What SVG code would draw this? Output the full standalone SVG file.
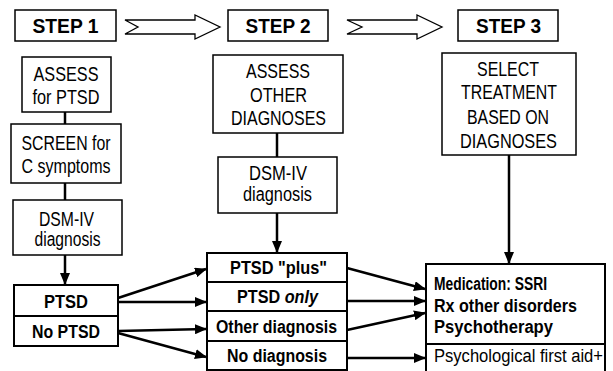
<svg xmlns="http://www.w3.org/2000/svg" width="613" height="371" viewBox="0 0 613 371">
<style>
  .box { fill: #fff; stroke: #000; stroke-width: 1.5; }
  .bold-box { fill: #fff; stroke: #000; stroke-width: 2; }
  .t { font-family: "Liberation Sans", Arial, sans-serif; font-size: 20px; fill: #000; text-anchor: middle; }
  .b { font-family: "Liberation Sans", Arial, sans-serif; font-size: 18px; font-weight: bold; fill: #000; text-anchor: middle; }
  .step { font-family: "Liberation Sans", Arial, sans-serif; font-size: 21px; font-weight: bold; fill: #000; text-anchor: middle; }
  .l { font-family: "Liberation Sans", Arial, sans-serif; font-size: 18px; fill: #000; }
  .line { stroke: #000; stroke-width: 2.5; fill: none; }
  .arr { stroke: #000; stroke-width: 2.5; fill: none; marker-end: url(#ah); }
  .block { fill: #fff; stroke: #000; stroke-width: 1.3; }
</style>
<defs>
  <marker id="ah" markerUnits="userSpaceOnUse" markerWidth="12" markerHeight="10" viewBox="0 0 12 10" refX="11" refY="5" orient="auto">
    <path d="M0,0 L12,5 L0,10 Z" fill="#000"/>
  </marker>
</defs>
<rect width="613" height="371" fill="#fff"/>

<g id="connectors">
  <path class="block" d="M125,20 L195,20 L195,15 L220,27 L195,39 L195,34 L125,34 L138,27 Z"/>
  <path class="block" d="M347,20 L417,20 L417,15 L442,27 L417,39 L417,34 L347,34 L362,27 Z"/>
  <line class="line" x1="65" y1="112" x2="65" y2="124"/>
  <line class="line" x1="65" y1="183" x2="65" y2="200"/>
  <line class="arr" x1="65" y1="255" x2="65" y2="284"/>
  <line class="line" x1="277" y1="133" x2="277" y2="157"/>
  <line class="arr" x1="277" y1="213" x2="277" y2="252"/>
  <line class="arr" x1="509" y1="155" x2="509" y2="263"/>
  <line class="arr" x1="118" y1="298" x2="206" y2="269"/>
  <line class="arr" x1="118" y1="302" x2="206" y2="302"/>
  <line class="arr" x1="118" y1="331" x2="206" y2="329"/>
  <line class="arr" x1="118" y1="333" x2="206" y2="357"/>
  <line class="arr" x1="347" y1="268" x2="425" y2="289"/>
  <line class="arr" x1="347" y1="301" x2="425" y2="301"/>
  <line class="arr" x1="347" y1="330" x2="425" y2="313"/>
  <line class="arr" x1="347" y1="358" x2="425" y2="358"/>
</g>

<g id="step1">
  <rect class="box" x="15" y="10" width="101" height="31"/>
  <text class="step" x="65.5" y="33" textLength="66" lengthAdjust="spacingAndGlyphs">STEP 1</text>
</g>
<g id="step2">
  <rect class="box" x="228" y="10" width="100" height="31"/>
  <text class="step" x="278" y="33" textLength="65" lengthAdjust="spacingAndGlyphs">STEP 2</text>
</g>
<g id="step3">
  <rect class="box" x="458" y="10" width="100" height="31"/>
  <text class="step" x="508.5" y="33" textLength="65" lengthAdjust="spacingAndGlyphs">STEP 3</text>
</g>

<g id="assess-ptsd">
  <rect class="box" x="22" y="57" width="89" height="55"/>
  <text class="t" x="66" y="81" textLength="65" lengthAdjust="spacingAndGlyphs">ASSESS</text>
  <text class="t" x="66" y="104" textLength="67" lengthAdjust="spacingAndGlyphs">for PTSD</text>
</g>
<g id="screen">
  <rect class="box" x="11" y="124" width="110" height="59"/>
  <text class="t" x="66" y="150" textLength="89" lengthAdjust="spacingAndGlyphs">SCREEN for</text>
  <text class="t" x="66" y="173" textLength="89" lengthAdjust="spacingAndGlyphs">C symptoms</text>
</g>
<g id="dsm1">
  <rect class="box" x="13" y="200" width="109" height="55"/>
  <text class="t" x="66.5" y="226" textLength="55" lengthAdjust="spacingAndGlyphs">DSM-IV</text>
  <text class="t" x="67.5" y="246" textLength="66" lengthAdjust="spacingAndGlyphs">diagnosis</text>
</g>
<g id="ptsd-stack">
  <rect class="bold-box" x="14" y="285" width="104" height="31"/>
  <rect class="bold-box" x="14" y="316" width="104" height="30"/>
  <text class="b" x="66" y="308" textLength="44" lengthAdjust="spacingAndGlyphs">PTSD</text>
  <text class="b" x="66" y="338" textLength="68" lengthAdjust="spacingAndGlyphs">No PTSD</text>
</g>

<g id="assess-other">
  <rect class="box" x="213" y="55" width="130" height="78"/>
  <text class="t" x="278" y="78" textLength="64" lengthAdjust="spacingAndGlyphs">ASSESS</text>
  <text class="t" x="278.5" y="102" textLength="57" lengthAdjust="spacingAndGlyphs">OTHER</text>
  <text class="t" x="278.5" y="125" textLength="95" lengthAdjust="spacingAndGlyphs">DIAGNOSES</text>
</g>
<g id="dsm2">
  <rect class="box" x="218" y="157" width="119" height="56"/>
  <text class="t" x="278" y="180" textLength="58" lengthAdjust="spacingAndGlyphs">DSM-IV</text>
  <text class="t" x="277.5" y="201" textLength="69" lengthAdjust="spacingAndGlyphs">diagnosis</text>
</g>
<g id="diag-stack">
  <rect class="bold-box" x="207" y="253" width="140" height="29"/>
  <rect class="bold-box" x="207" y="282" width="140" height="29"/>
  <rect class="bold-box" x="207" y="311" width="140" height="30"/>
  <rect class="bold-box" x="207" y="341" width="140" height="29"/>
  <text class="b" x="278.5" y="274" textLength="97" lengthAdjust="spacingAndGlyphs">PTSD "plus"</text>
  <text class="b" x="277.5" y="303" textLength="81" lengthAdjust="spacingAndGlyphs">PTSD <tspan font-style="italic">only</tspan></text>
  <text class="b" x="276.5" y="333" textLength="121" lengthAdjust="spacingAndGlyphs">Other diagnosis</text>
  <text class="b" x="277" y="362" textLength="100" lengthAdjust="spacingAndGlyphs">No diagnosis</text>
</g>

<g id="select">
  <rect class="box" x="442" y="53" width="134" height="102"/>
  <text class="t" x="508" y="76" textLength="62" lengthAdjust="spacingAndGlyphs">SELECT</text>
  <text class="t" x="509" y="99" textLength="96" lengthAdjust="spacingAndGlyphs">TREATMENT</text>
  <text class="t" x="508" y="124" textLength="82" lengthAdjust="spacingAndGlyphs">BASED ON</text>
  <text class="t" x="508.5" y="148" textLength="97" lengthAdjust="spacingAndGlyphs">DIAGNOSES</text>
</g>
<g id="treatment">
  <path class="bold-box" d="M426,372 L426,264 L605,264 L605,372"/>
  <line x1="426" y1="344" x2="605" y2="344" stroke="#000" stroke-width="2"/>
  <text class="l" font-weight="bold" x="434" y="290" textLength="113" lengthAdjust="spacingAndGlyphs">Medication: SSRI</text>
  <text class="l" font-weight="bold" x="434" y="312" textLength="143" lengthAdjust="spacingAndGlyphs">Rx other disorders</text>
  <text class="l" font-weight="bold" x="434" y="333" textLength="119" lengthAdjust="spacingAndGlyphs">Psychotherapy</text>
  <text class="l" x="434" y="362" textLength="169" lengthAdjust="spacingAndGlyphs">Psychological first aid+</text>
</g>
</svg>
